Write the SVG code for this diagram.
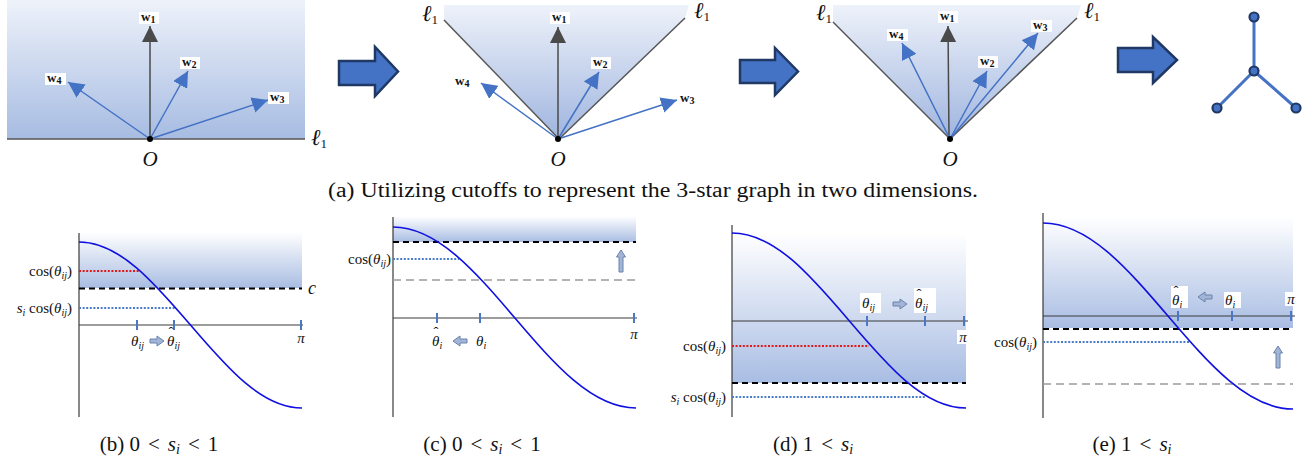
<svg xmlns="http://www.w3.org/2000/svg" width="1314" height="463" viewBox="0 0 1314 463">
<style>
.m{fill:#111}
.it{font-style:italic}
.lab{font-size:15px}
.wl{font-size:13px;font-weight:bold}
.sub{font-size:10px}
.cap{font-size:21px}
.ell-t{font-size:23px;font-style:italic}
.ax{stroke:#3a3a3a;stroke-width:1.2;fill:none}
.tick{stroke:#4a78c4;stroke-width:2}
.curve{stroke:#1010e0;stroke-width:1.6;fill:none}
.cut{stroke:#000;stroke-width:2;stroke-dasharray:6 4}
.old{stroke:#9a9a9a;stroke-width:1.5;stroke-dasharray:8 5}
.rdot{stroke:#e01818;stroke-width:2;stroke-dasharray:2 1.6}
.bdot{stroke:#4a7cc8;stroke-width:2;stroke-dasharray:2 1.6}
.vec{stroke:#4472c4;stroke-width:1.5;marker-end:url(#hb)}
.vg{stroke:#4a4a4a;stroke-width:1.5;marker-end:url(#hg)}
.ell{stroke:#555;stroke-width:1.5}
.big{fill:#4472c4;stroke:#1f3864;stroke-width:2.5}
.sm{fill:#a3b5d6;stroke:#6a82ad;stroke-width:1}
.wb{fill:#fff}
</style>
<defs>
<linearGradient id="g1" x1="0" y1="0" x2="0" y2="1"><stop offset="0" stop-color="#eef2fa"/><stop offset="1" stop-color="#a7bce2"/></linearGradient>
<linearGradient id="g2" x1="0" y1="0" x2="0" y2="1"><stop offset="0" stop-color="#eef2fa"/><stop offset="1" stop-color="#9fb5df"/></linearGradient>
<linearGradient id="gb" x1="0" y1="0" x2="0" y2="1"><stop offset="0" stop-color="#ffffff"/><stop offset="1" stop-color="#a9bde3"/></linearGradient>
<marker id="hb" markerUnits="userSpaceOnUse" markerWidth="16" markerHeight="16" refX="16" refY="8" orient="auto"><path d="M0,0 L16,8 L0,16 z" fill="#4472c4"/></marker>
<marker id="hg" markerUnits="userSpaceOnUse" markerWidth="16" markerHeight="16" refX="16" refY="8" orient="auto"><path d="M0,0 L16,8 L0,16 z" fill="#4a4a4a"/></marker>
<path id="ra" d="M-7,-2 H0 V-5 L7,0 L0,5 V2 H-7 Z"/>
<path id="ua" d="M-2,11 V-4 H-4.5 L0,-11 L4.5,-4 H2 V11 Z"/>
</defs>
<g font-family="'Liberation Serif', 'Times New Roman', 'DejaVu Serif', serif">

<g id="panel-a1">
<rect x="7" y="0" width="298" height="139" fill="url(#g1)"/>
<line class="ell" x1="7" y1="139" x2="305" y2="139"/>
<text class="m ell-t" x="311" y="145">ℓ<tspan font-style="normal" dy="3" font-size="13">1</tspan></text>
<line class="vg" x1="150" y1="139" x2="150" y2="26"/>
<line class="vec" x1="150" y1="139" x2="188" y2="71"/>
<line class="vec" x1="150" y1="139" x2="68" y2="82"/>
<line class="vec" x1="150" y1="139" x2="268" y2="100"/>
<circle cx="150" cy="139" r="3" fill="#000"/>
<rect class="wb" x="139" y="12" width="20" height="12"/><text class="m wl" x="141" y="21">w<tspan class="sub" dy="2">1</tspan></text>
<rect class="wb" x="180" y="57" width="20" height="12"/><text class="m wl" x="182" y="66">w<tspan class="sub" dy="2">2</tspan></text>
<rect class="wb" x="45" y="73" width="21" height="12"/><text class="m wl" x="47" y="82">w<tspan class="sub" dy="2">4</tspan></text>
<rect class="wb" x="268" y="92" width="21" height="12"/><text class="m wl" x="270" y="101">w<tspan class="sub" dy="2">3</tspan></text>
<text class="m it" x="150" y="166" font-size="21" text-anchor="middle">O</text>
</g>

<g id="arrow-1"><polygon class="big" points="339,61 375,61 375,47 398,71.5 375,96 375,85 339,85"/></g>

<g id="panel-a2">
<polygon points="559,139 444,20 444,5 689,5 685,18" fill="url(#g2)"/>
<line class="ell" x1="559" y1="139" x2="444" y2="20"/>
<line class="ell" x1="559" y1="139" x2="685" y2="18"/>
<text class="m ell-t" x="422" y="21">ℓ<tspan font-style="normal" dy="3" font-size="13">1</tspan></text>
<text class="m ell-t" x="694" y="18">ℓ<tspan font-style="normal" dy="3" font-size="13">1</tspan></text>
<line class="vg" x1="558" y1="139" x2="558" y2="27"/>
<line class="vec" x1="558" y1="139" x2="599" y2="72"/>
<line class="vec" x1="558" y1="139" x2="481" y2="83"/>
<line class="vec" x1="558" y1="139" x2="677" y2="100"/>
<circle cx="558" cy="139" r="3" fill="#000"/>
<rect class="wb" x="550" y="12" width="20" height="12"/><text class="m wl" x="552" y="21">w<tspan class="sub" dy="2">1</tspan></text>
<rect class="wb" x="591" y="57" width="20" height="12"/><text class="m wl" x="593" y="66">w<tspan class="sub" dy="2">2</tspan></text>
<text class="m wl" x="455" y="85">w<tspan class="sub" dy="2">4</tspan></text>
<text class="m wl" x="680" y="102">w<tspan class="sub" dy="2">3</tspan></text>
<text class="m it" x="558" y="166" font-size="21" text-anchor="middle">O</text>
</g>

<g id="arrow-2"><polygon class="big" points="740,60 775,60 775,48 798,71.5 775,95 775,83 740,83"/></g>

<g id="panel-a3">
<polygon points="950,139 833,22 833,5 1081,5 1077,18" fill="url(#g2)"/>
<line class="ell" x1="950" y1="139" x2="833" y2="22"/>
<line class="ell" x1="950" y1="139" x2="1077" y2="18"/>
<text class="m ell-t" x="816" y="20">ℓ<tspan font-style="normal" dy="3" font-size="13">1</tspan></text>
<text class="m ell-t" x="1084" y="18">ℓ<tspan font-style="normal" dy="3" font-size="13">1</tspan></text>
<line class="vg" x1="949" y1="139" x2="948" y2="26"/>
<line class="vec" x1="950" y1="139" x2="902" y2="43"/>
<line class="vec" x1="950" y1="139" x2="987" y2="71"/>
<line class="vec" x1="950" y1="139" x2="1038" y2="33"/>
<circle cx="950" cy="139" r="3" fill="#000"/>
<rect class="wb" x="938" y="11" width="20" height="12"/><text class="m wl" x="940" y="20">w<tspan class="sub" dy="2">1</tspan></text>
<rect class="wb" x="887" y="29" width="21" height="12"/><text class="m wl" x="889" y="38">w<tspan class="sub" dy="2">4</tspan></text>
<rect class="wb" x="978" y="56" width="20" height="12"/><text class="m wl" x="980" y="65">w<tspan class="sub" dy="2">2</tspan></text>
<rect class="wb" x="1031" y="20" width="21" height="12"/><text class="m wl" x="1033" y="29">w<tspan class="sub" dy="2">3</tspan></text>
<text class="m it" x="950" y="166" font-size="21" text-anchor="middle">O</text>
</g>

<g id="arrow-3"><polygon class="big" points="1118,48 1153,48 1153,37 1177,60 1153,83 1153,72 1118,72"/></g>

<g id="connectors">
<line x1="1254" y1="71" x2="1254" y2="17" stroke="#4472c4" stroke-width="3"/>
<line x1="1254" y1="71" x2="1217" y2="108" stroke="#4472c4" stroke-width="3"/>
<line x1="1254" y1="71" x2="1296" y2="108" stroke="#4472c4" stroke-width="3"/>
</g>
<g id="node-center"><circle cx="1254" cy="71" r="4.5" fill="#4472c4" stroke="#1f3864" stroke-width="2.2"/></g>
<g id="node-top"><circle cx="1254" cy="17" r="4.5" fill="#4472c4" stroke="#1f3864" stroke-width="2.2"/></g>
<g id="node-left"><circle cx="1217" cy="108" r="4.5" fill="#4472c4" stroke="#1f3864" stroke-width="2.2"/></g>
<g id="node-right"><circle cx="1296" cy="108" r="4.5" fill="#4472c4" stroke="#1f3864" stroke-width="2.2"/></g>

<text class="m" x="653" y="197" font-size="20" text-anchor="middle" textLength="650" lengthAdjust="spacingAndGlyphs">(a) Utilizing cutoffs to represent the 3-star graph in two dimensions.</text>

<g id="panel-b">
<rect x="79" y="232" width="223" height="56" fill="url(#gb)"/>
<line class="ax" x1="79" y1="233" x2="79" y2="417"/>
<line class="ax" x1="79" y1="325" x2="303" y2="325"/>
<line class="cut" x1="79" y1="288.5" x2="302" y2="288.5"/>
<line class="rdot" x1="79" y1="271" x2="139" y2="271"/>
<line class="bdot" x1="79" y1="308" x2="175" y2="308"/>
<path class="curve" d="M79,242 C119.35,242 154.14,282.48 190.5,325 C226.86,367.52 261.65,408 302,408"/>
<line class="tick" x1="137" y1="320" x2="137" y2="330"/>
<line class="tick" x1="174" y1="320" x2="174" y2="330"/>
<line class="tick" x1="301" y1="320" x2="301" y2="330"/>
<text class="m lab" x="72" y="276" text-anchor="end">cos(<tspan class="it">θ</tspan><tspan class="it sub" dy="3">ij</tspan><tspan dy="-3">)</tspan></text>
<text class="m lab" x="72" y="313" text-anchor="end"><tspan class="it">s</tspan><tspan class="it sub" dy="3">i</tspan><tspan dy="-3"> cos(</tspan><tspan class="it">θ</tspan><tspan class="it sub" dy="3">ij</tspan><tspan dy="-3">)</tspan></text>
<text class="m lab it" x="131" y="346">θ<tspan class="sub" dy="3">ij</tspan></text>
<use href="#ra" class="sm" transform="translate(157,341)"/>
<text class="m lab it" x="167" y="346">θ<tspan font-style="normal" dx="-6" dy="-9">ˆ</tspan><tspan class="sub" dx="1" dy="12">ij</tspan></text>
<text class="m lab it" x="301" y="343" text-anchor="middle">π</text>
<text class="m it" x="308" y="294" font-size="18">c</text>
<text class="m cap" x="159" y="451" text-anchor="middle">(b) 0<tspan dx="8">&lt;</tspan><tspan class="it" dx="8">s</tspan><tspan class="it" font-size="14" dy="3">i</tspan><tspan dy="-3" dx="8">&lt;</tspan><tspan dx="8">1</tspan></text>
</g>

<g id="panel-c">
<rect x="393" y="216" width="243" height="26" fill="url(#gb)"/>
<line class="ax" x1="393" y1="217" x2="393" y2="417"/>
<line class="ax" x1="393" y1="318" x2="637" y2="318"/>
<line class="cut" x1="393" y1="242" x2="636" y2="242"/>
<line class="old" x1="393" y1="280" x2="636" y2="280"/>
<line class="bdot" x1="393" y1="259" x2="459" y2="259"/>
<path class="curve" d="M393,227 C436.97,227 474.87,271.14 514.5,317.5 C554.13,363.86 592.03,408 636,408"/>
<line class="tick" x1="437" y1="313" x2="437" y2="323"/>
<line class="tick" x1="480" y1="313" x2="480" y2="323"/>
<line class="tick" x1="634" y1="313" x2="634" y2="323"/>
<text class="m lab" x="391" y="264" text-anchor="end">cos(<tspan class="it">θ</tspan><tspan class="it sub" dy="3">ij</tspan><tspan dy="-3">)</tspan></text>
<text class="m lab it" x="432" y="346">θ<tspan font-style="normal" dx="-6" dy="-9">ˆ</tspan><tspan class="sub" dx="1" dy="12">i</tspan></text>
<use href="#ra" class="sm" transform="translate(460,341) rotate(180)"/>
<text class="m lab it" x="476" y="346">θ<tspan class="sub" dy="3">i</tspan></text>
<text class="m lab it" x="634" y="339" text-anchor="middle">π</text>
<use href="#ua" class="sm" transform="translate(621,261)"/>
<text class="m cap" x="482" y="451" text-anchor="middle">(c) 0<tspan dx="8">&lt;</tspan><tspan class="it" dx="8">s</tspan><tspan class="it" font-size="14" dy="3">i</tspan><tspan dy="-3" dx="8">&lt;</tspan><tspan dx="8">1</tspan></text>
</g>

<g id="panel-d">
<rect x="732" y="233" width="234" height="150" fill="url(#gb)"/>
<line class="ax" x1="732" y1="225" x2="732" y2="417"/>
<line class="ax" x1="732" y1="321" x2="968" y2="321"/>
<line class="cut" x1="732" y1="383" x2="966" y2="383"/>
<line class="rdot" x1="732" y1="346" x2="869" y2="346"/>
<line class="bdot" x1="732" y1="397" x2="926" y2="397"/>
<path class="curve" d="M732,233 C774.34,233 810.84,275.67 849,320.5 C887.16,365.33 923.66,408 966,408"/>
<line class="tick" x1="867" y1="316" x2="867" y2="326"/>
<line class="tick" x1="925" y1="316" x2="925" y2="326"/>
<line class="tick" x1="964" y1="316" x2="964" y2="326"/>
<rect class="wb" x="860" y="293" width="21" height="20"/>
<text class="m lab it" x="862" y="308">θ<tspan class="sub" dy="3">ij</tspan></text>
<use href="#ra" class="sm" transform="translate(900,304)"/>
<rect class="wb" x="914" y="288" width="22" height="25"/>
<text class="m lab it" x="915" y="308">θ<tspan font-style="normal" dx="-6" dy="-9">ˆ</tspan><tspan class="sub" dx="1" dy="12">ij</tspan></text>
<rect class="wb" x="957" y="330" width="13" height="14"/>
<text class="m lab it" x="963" y="342" text-anchor="middle">π</text>
<text class="m lab" x="726" y="351" text-anchor="end">cos(<tspan class="it">θ</tspan><tspan class="it sub" dy="3">ij</tspan><tspan dy="-3">)</tspan></text>
<text class="m lab" x="726" y="402" text-anchor="end"><tspan class="it">s</tspan><tspan class="it sub" dy="3">i</tspan><tspan dy="-3"> cos(</tspan><tspan class="it">θ</tspan><tspan class="it sub" dy="3">ij</tspan><tspan dy="-3">)</tspan></text>
<text class="m cap" x="813" y="451" text-anchor="middle">(d) 1<tspan dx="8">&lt;</tspan><tspan class="it" dx="8">s</tspan><tspan class="it" font-size="14" dy="3">i</tspan></text>
</g>

<g id="panel-e">
<rect x="1043" y="217" width="250" height="111" fill="url(#gb)"/>
<line class="ax" x1="1043" y1="213" x2="1043" y2="418"/>
<line class="ax" x1="1043" y1="316" x2="1295" y2="316"/>
<line class="cut" x1="1043" y1="329" x2="1293" y2="329"/>
<line class="old" x1="1043" y1="384" x2="1293" y2="384"/>
<line class="bdot" x1="1043" y1="342" x2="1189" y2="342"/>
<path class="curve" d="M1043,223 C1088.24,223 1127.23,268.36 1168,316 C1208.77,363.64 1247.76,409 1293,409"/>
<line class="tick" x1="1178" y1="311" x2="1178" y2="321"/>
<line class="tick" x1="1232" y1="311" x2="1232" y2="321"/>
<line class="tick" x1="1291" y1="311" x2="1291" y2="321"/>
<rect class="wb" x="1171" y="286" width="17" height="22"/>
<text class="m lab it" x="1172" y="305">θ<tspan font-style="normal" dx="-6" dy="-9">ˆ</tspan><tspan class="sub" dx="1" dy="12">i</tspan></text>
<use href="#ra" class="sm" transform="translate(1205,297) rotate(180)"/>
<rect class="wb" x="1224" y="292" width="17" height="16"/>
<text class="m lab it" x="1225" y="305">θ<tspan class="sub" dy="3">i</tspan></text>
<rect class="wb" x="1285" y="292" width="12" height="14"/>
<text class="m lab it" x="1291" y="304" text-anchor="middle">π</text>
<text class="m lab" x="1037" y="347" text-anchor="end">cos(<tspan class="it">θ</tspan><tspan class="it sub" dy="3">ij</tspan><tspan dy="-3">)</tspan></text>
<use href="#ua" class="sm" transform="translate(1278,357)"/>
<text class="m cap" x="1132" y="451" text-anchor="middle">(e) 1<tspan dx="8">&lt;</tspan><tspan class="it" dx="8">s</tspan><tspan class="it" font-size="14" dy="3">i</tspan></text>
</g>
</g>
</svg>
